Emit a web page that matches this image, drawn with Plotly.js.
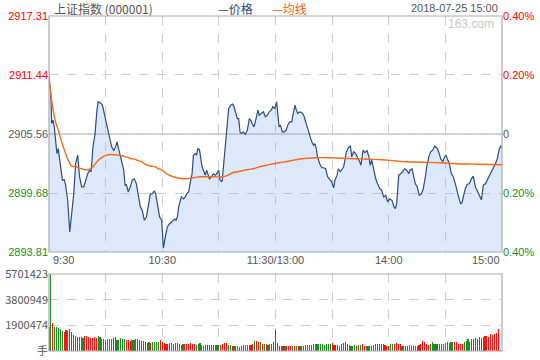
<!DOCTYPE html>
<html>
<head>
<meta charset="utf-8">
<script src="https://cdn.plot.ly/plotly-3.0.1.min.js"></script>
<style>html,body{margin:0;padding:0;background:#fff;}#chart{width:540px;height:360px;}</style>
</head>
<body>
<div id="chart"></div>
<script>
// ---- data (minute index: 0 = 9:30, 120 = 11:30/13:00, 240 = 15:00) ----
const priceT = [0,1.1,1.4,2.1,2.8,3.5,4.2,4.9,5.7,6.4,7.1,8.1,8.8,9.9,11,12,13.1,14.1,15.2,16.2,17.3,18.4,19.4,20.5,21.5,22.3,23.3,24.4,25.4,26.1,27.6,28.3,29.3,30.7,32.1,33.2,34.3,35.3,36,37.1,38.5,39.6,40.3,41,42,43.1,44.1,45.2,46.3,47.3,48.4,49.4,50.5,51.6,52.6,53.7,54.7,55.8,56.5,57.6,58.6,59.7,60.6,61.6,62.7,63.8,64.8,65.9,66.6,67.3,68,68.7,69.4,70.1,71.2,72.2,72.9,74,74.7,75.8,76.5,77.5,78.2,78.9,79.7,80.4,81.1,82.1,82.8,83.5,84.2,85,86,87.1,88.1,88.8,89.9,90.6,91.7,92.4,93.1,93.8,94.5,95.2,96.3,97.3,98,99.1,99.8,100.5,101.2,101.9,103,104,105.1,106.1,106.8,107.6,108.6,109.7,110.7,111.4,112.5,113.6,114.6,115.7,116.7,117.8,118.5,119.6,120.6,121.2,121.9,122.6,123.6,124.7,125.7,126.5,127.5,128.6,129.3,130.3,131,131.8,132.8,133.9,134.9,136,137,138.1,139.2,140.2,140.9,141.6,142.3,143.4,144.5,145.5,146.6,147.6,148.7,149.8,150.8,151.5,152.6,153.3,154.4,155.4,156.1,156.8,157.5,158.6,159.7,160.4,161.4,162.5,163.5,164.6,165.3,166.4,167.4,168.5,169.5,170.2,171,172,173.1,174.1,175.2,176.3,177.3,178.4,179.4,180.5,181.7,182.8,183.5,184.2,185.3,186.3,187.4,188.4,189.5,190.6,191.3,192.3,193,194.1,195.1,196.2,197.3,198.3,199.4,200.1,201.2,202.2,203.3,204.3,205.4,206.5,207.5,208.6,209.6,210.3,211,212.1,213.2,214.2,215.3,216.3,217,218.1,218.8,219.5,220.6,221.6,222.7,223.8,224.8,225.9,226.9,228,229.1,230.1,231.2,232.2,233.3,234.4,235.4,236.5,237.5,238.6,239.3,240];
const priceV = [2911.30,2908.94,2906.6,2906.94,2906.27,2904.95,2903.6,2904.1,2902.95,2901.46,2900.96,2901.0,2900.46,2898.96,2895.8,2897.6,2899.6,2902.6,2903.45,2901.3,2900.3,2900.3,2900.96,2901.6,2901.96,2901.8,2904.28,2905.6,2907.94,2908.77,2908.6,2908.44,2907.6,2906.44,2905.28,2904.28,2903.9,2904.3,2904.78,2903.95,2902.95,2901.96,2900.46,2900.5,2899.8,2900.3,2900.96,2901.1,2900.6,2899.46,2898.3,2897.97,2896.97,2897.3,2898.3,2899.6,2899.6,2899.9,2899.6,2898.3,2897.3,2896.97,2894.2,2895.3,2896.3,2896.6,2896.8,2896.97,2897.1,2896.97,2897.3,2898.3,2898.96,2899.3,2899.1,2899.3,2899.6,2899.8,2900.6,2901.6,2903.45,2903.6,2903.5,2904.1,2904.0,2903.28,2902.3,2901.8,2901.46,2901.96,2901.6,2901.1,2901.3,2901.6,2901.46,2901.6,2901.96,2900.96,2900.8,2902.3,2903.6,2905.6,2907.27,2908.1,2908.44,2908.54,2908.3,2907.6,2907.1,2907.1,2905.78,2905.6,2905.78,2905.5,2905.95,2907.1,2906.94,2906.6,2906.27,2907.1,2907.94,2907.44,2907.6,2907.77,2907.27,2907.44,2907.77,2907.94,2908.27,2908.1,2908.77,2907.27,2906.27,2906.44,2905.78,2905.78,2905.95,2906.44,2906.77,2906.77,2907.6,2908.44,2907.94,2907.6,2907.77,2907.7,2907.44,2906.77,2905.95,2905.45,2904.78,2904.45,2904.6,2904.1,2903.28,2902.6,2902.2,2902.2,2902.1,2901.3,2901.1,2900.8,2900.2,2900.96,2901.46,2902.1,2901.8,2902.1,2902.3,2902.95,2903.78,2904.2,2904.35,2903.28,2903.78,2903.6,2903.28,2902.8,2902.45,2903.95,2903.7,2903.9,2903.28,2902.45,2902.95,2901.96,2901.1,2900.6,2900.13,2899.96,2899.3,2899.46,2898.8,2899.1,2898.96,2898.3,2898.13,2898.63,2901.46,2901.6,2901.8,2902.1,2901.96,2901.6,2901.96,2902.1,2901.46,2900.6,2900.3,2899.46,2899.6,2900.13,2901.3,2902.3,2903.28,2903.78,2903.95,2904.35,2904.2,2903.78,2903.1,2902.8,2903.28,2903.45,2903.1,2902.6,2901.6,2901.3,2900.6,2899.6,2899.3,2898.63,2898.7,2899.3,2900.13,2900.56,2900.6,2901.1,2901.36,2900.3,2899.8,2899.46,2899.0,2900.46,2900.6,2900.96,2901.46,2901.8,2902.1,2902.6,2903.1,2904.1,2904.35,2904.2];

const avgT = [0,1.4,3.2,4.9,6.7,8.5,10.2,12,13.8,15.5,17.3,19.1,20.8,22.6,24.4,26.1,27.9,29.7,31.4,33.2,35,36.7,38.5,40.3,42,43.8,45.6,47.3,49.1,50.9,52.6,54.4,56.2,57.9,59.7,62.3,65.9,69.4,72.9,76.5,80,87.1,92.4,94.1,97.3,101.2,104.7,108.2,111.7,115.2,118.8,121.9,126.8,133.9,141,148,155,162,169,176.2,182.9,189.5,198.3,207.1,215.9,224.8,233.6,240];
const avgV = [2911.3,2908.94,2906.94,2905.95,2904.78,2903.78,2902.95,2902.35,2902.35,2902.2,2902.1,2902.0,2902.0,2902.2,2902.56,2902.95,2903.2,2903.4,2903.5,2903.52,2903.5,2903.45,2903.4,2903.3,2903.2,2903.1,2903.05,2902.9,2902.8,2902.56,2902.43,2902.35,2902.3,2902.1,2902.0,2901.6,2901.3,2901.16,2901.1,2901.2,2901.3,2901.3,2901.3,2901.4,2901.7,2901.85,2902.0,2902.1,2902.3,2902.45,2902.6,2902.7,2902.85,2903.1,2903.2,2903.2,2903.15,2903.1,2903.05,2903.0,2902.9,2902.8,2902.75,2902.7,2902.6,2902.56,2902.52,2902.5];

// volume per minute, in 10,000 lots (万手)
const volWan = [
180,570.1423,209,179,179,172,162,147,142,152,
147,162,142,117,109,107,107,107,97,109,
109,104,95,95,107,97,109,107,87,87,
82,87,87,87,95,100,80,85,95,90,
92,85,80,75,80,82,87,87,82,77,
75,67,62,65,62,70,70,70,70,80,
65,57,55,55,60,60,55,60,60,50,
47,50,52,52,55,57,55,55,48,50,
57,42,38,42,42,42,42,42,42,42,
42,47,55,62,62,47,47,37,35,37,
37,32,37,42,42,45,45,47,50,75,
72,67,65,55,50,50,47,50,55,65,
154,60,35,35,37,37,37,40,35,40,
37,40,40,35,40,40,45,42,45,47,
50,50,50,50,50,50,47,50,50,50,
60,45,42,42,37,50,60,67,50,45,
40,37,42,40,42,42,50,40,35,35,
35,40,47,50,55,50,50,50,45,40,
35,50,50,52,57,52,50,35,35,35,
35,42,40,35,35,35,42,55,72,67,
50,42,50,65,50,50,50,50,50,55,
60,65,60,70,65,65,65,55,55,55,
70,72,87,70,92,87,97,92,100,95,
104,109,114,100,124,120,124,134,162,10,
0];
// r = up minute (red), g = down minute (green)
const volDir = (
"rgrgggggrr"+"grrrrrgggr"+"rrrrrrgggg"+"ggggrrgggg"+"grrrgggggr"+
"rrrgrggggr"+"rrrrggrggr"+"rgrrrrrrgg"+"gggrrrrrgg"+"grrrrggrgg"+
"grgrgrgrrg"+"rrgrgrgrrr"+"rgrrrgrrrg"+"rgrggrgggg"+"gggggggggg"+
"rrrrgrrrrg"+"gggrggrrgg"+"rggggrrrrr"+"rggrrrrggr"+"rggggrrrrr"+
"rrggggrggg"+"gggggrrrrr"+"ggggrrrrrr"+"rrrrrrrrrr"+"r").split("");

const leftTickVals = [2893.81, 2899.68, 2905.56, 2911.44, 2917.31];
const leftTickText = ["2893.81", "2899.68", "2905.56", "2911.44", "2917.31"];
const rightTickText = ["0.40%", "0.20%", "0", "0.20%", "0.40%"];
const tickColors = ["#1a8a1a", "#1a8a1a", "#555555", "#ff0000", "#ff0000"];
const volTickVals = [0, 1900474, 3800949, 5701423];
const volTickText = ["手", "1900474", "3800949", "5701423"];
const timeTickVals = [0, 30, 60, 90, 120, 150, 180, 210, 240];
const timeTickText = ["", "", "10:30", "", "11:30/13:00", "", "14:00", "", ""];

// ---- chart ----
const FONT = "Liberation Sans, Arial, Noto Sans CJK SC, sans-serif";
const CJK = "Noto Sans CJK SC, Liberation Sans, sans-serif";
const color = (t, c) => '<span style="color:' + c + '">' + t + '</span>';

const volX = volWan.map((v, i) => i);
const volY = volWan.map(v => Math.round(v * 10000));
const volC = volDir.map(d => d === "r" ? "#ff1010" : "#1e8c1e");

const traces = [
  {type: "scatter", mode: "lines", x: priceT, y: priceV, xaxis: "x", yaxis: "y",
   line: {color: "#2b4d80", width: 1.2}, fill: "tozeroy", fillcolor: "rgba(142,178,238,0.3)",
   hoverinfo: "skip", showlegend: false},
  {type: "scatter", mode: "lines", x: avgT, y: avgV, xaxis: "x", yaxis: "y3",
   line: {color: "#f36a1c", width: 1.4, shape: "spline"}, hoverinfo: "skip", showlegend: false},
  {type: "bar", x: volX, y: volY, xaxis: "x", yaxis: "y2", width: 0.6,
   marker: {color: volC, line: {width: 0}}, hoverinfo: "skip", showlegend: false}
];

const axisFont = {family: FONT, size: 11, color: "#555555"};
const layout = {
  width: 540, height: 360,
  margin: {l: 49, r: 38, t: 16, b: 9, pad: 0},
  paper_bgcolor: "#ffffff", plot_bgcolor: "#ffffff",
  showlegend: false,
  bargap: 0,
  xaxis: {
    domain: [0, 1], anchor: "y", range: [0, 240], fixedrange: true,
    tickmode: "array", tickvals: timeTickVals, ticktext: timeTickText,
    ticks: "", showgrid: true, gridcolor: "#cccccc", griddash: "dash", gridwidth: 1,
    zeroline: false, showline: false, tickfont: axisFont
  },
  yaxis: {
    domain: [0.2955, 1], anchor: "x", range: [2893.81, 2917.31], fixedrange: true,
    tickmode: "array", tickvals: leftTickVals,
    ticktext: leftTickText.map((t, i) => color(t, tickColors[i])),
    ticks: "", showgrid: true, gridcolor: "#cccccc", griddash: "dash",
    zeroline: false, showline: false, tickfont: axisFont
  },
  yaxis3: {
    overlaying: "y", side: "right", anchor: "x", range: [2893.81, 2917.31], fixedrange: true,
    tickmode: "array", tickvals: leftTickVals,
    ticktext: rightTickText.map((t, i) => color(t, tickColors[i])),
    ticks: "", showgrid: false, zeroline: false, showline: false, tickfont: axisFont
  },
  yaxis2: {
    domain: [0, 0.2299], anchor: "x", range: [0, 5701423], fixedrange: true,
    tickmode: "array", tickvals: volTickVals, ticktext: volTickText,
    ticks: "", showgrid: true, gridcolor: "#cccccc", griddash: "dash",
    zeroline: false, showline: false, tickfont: {family: CJK, size: 11, color: "#555555"}
  },
  shapes: [
    {type: "line", xref: "paper", yref: "y", x0: 0, x1: 1, y0: 2905.56, y1: 2905.56,
     line: {color: "#aaaaaa", width: 1}, layer: "below"},
    {type: "rect", xref: "paper", yref: "y domain", x0: 0, x1: 1, y0: 0, y1: 1,
     line: {color: "#aaaaaa", width: 1.2}, layer: "above"},
    {type: "rect", xref: "paper", yref: "y2 domain", x0: 0, x1: 1, y0: 0, y1: 1,
     line: {color: "#aaaaaa", width: 1.2}, layer: "above"}
  ],
  annotations: [
    {xref: "paper", yref: "paper", x: 0.0066, y: 1.021, xanchor: "left", yanchor: "middle",
     text: "上证指数 (000001)", showarrow: false, font: {family: CJK, size: 12, color: "#555555"}},
    {xref: "paper", yref: "paper", x: 0.3687, y: 1.021, xanchor: "left", yanchor: "middle",
     text: "—价格", showarrow: false, font: {family: CJK, size: 12, color: "#1f3f70"}},
    {xref: "paper", yref: "paper", x: 0.4879, y: 1.021, xanchor: "left", yanchor: "middle",
     text: "—均线", showarrow: false, font: {family: CJK, size: 12, color: "#f0600f"}},
    {xref: "paper", yref: "paper", x: 0.9956, y: 1.024, xanchor: "right", yanchor: "middle",
     text: "2018-07-25 15:00", showarrow: false, font: {family: FONT, size: 11, color: "#555555"}},
    {xref: "paper", yref: "paper", x: 0.9868, y: 0.976, xanchor: "right", yanchor: "middle",
     text: "163.com", showarrow: false, font: {family: FONT, size: 12, color: "#c8c8c8"}},
    {xref: "paper", yref: "paper", x: 0.004, y: 0.2716, xanchor: "left", yanchor: "middle",
     text: "9:30", showarrow: false, font: axisFont},
    {xref: "paper", yref: "paper", x: 1.0, y: 0.2716, xanchor: "right", yanchor: "middle",
     text: "15:00", showarrow: false, font: axisFont}
  ]
};

Plotly.newPlot("chart", traces, layout, {staticPlot: true, displayModeBar: false});
</script>
</body>
</html>
